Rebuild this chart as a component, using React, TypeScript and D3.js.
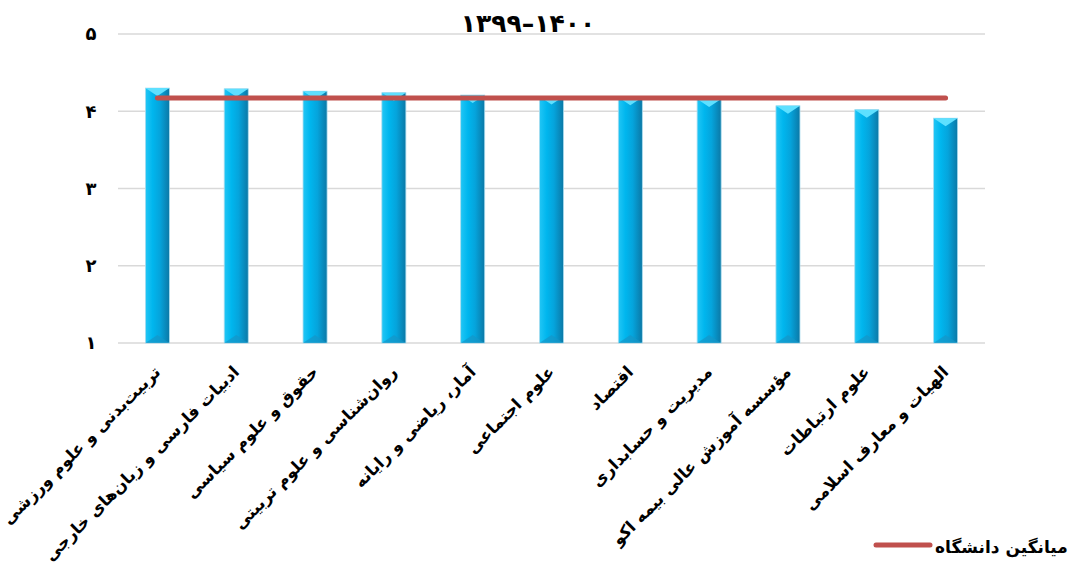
import { useEffect, useRef } from 'react'
import * as d3 from 'd3'

const CATEGORIES = [
  'تربیت‌بدنی و علوم ورزشی',
  'ادبیات فارسی و زبان‌های خارجی',
  'حقوق و علوم سیاسی',
  'روان‌شناسی و علوم تربیتی',
  'آمار، ریاضی و رایانه',
  'علوم اجتماعی',
  'اقتصاد',
  'مدیریت و حسابداری',
  'مؤسسه آموزش عالی بیمه اکو',
  'علوم ارتباطات',
  'الهیات و معارف اسلامی',
]
const FACULTY_SCORES = [4.3, 4.29, 4.26, 4.24, 4.21, 4.19, 4.18, 4.16, 4.07, 4.02, 3.91]
const UNIVERSITY_MEAN = [4.17, 4.17, 4.17, 4.17, 4.17, 4.17, 4.17, 4.17, 4.17, 4.17, 4.17]
const Y_TICKS = [1, 2, 3, 4, 5]
const Y_TICK_LABELS = ['۱', '۲', '۳', '۴', '۵']
const TITLE = '۱۳۹۹–۱۴۰۰'
const LEGEND_LABEL = 'میانگین دانشگاه'

const FONT = '"DejaVu Sans", sans-serif'

export default function App() {
  const ref = useRef<SVGSVGElement>(null)

  useEffect(() => {
    const svg = d3.select(ref.current)
    svg.selectAll('*').remove()

    const width = 1070
    const height = 562
    const left = 118
    const right = 985
    const top = 34
    const bottom = 343

    svg.attr('viewBox', `0 0 ${width} ${height}`)

    const defs = svg.append('defs')
    const grad = defs.append('linearGradient').attr('id', 'barGrad').attr('x1', 0).attr('x2', 1).attr('y1', 0).attr('y2', 0)
    grad.append('stop').attr('offset', '0%').attr('stop-color', '#22c6f5')
    grad.append('stop').attr('offset', '30%').attr('stop-color', '#00b6ee')
    grad.append('stop').attr('offset', '60%').attr('stop-color', '#05a4dc')
    grad.append('stop').attr('offset', '100%').attr('stop-color', '#0b78a6')

    const x = d3.scaleBand<string>().domain(CATEGORIES).range([left, right]).padding(0)
    const y = d3.scaleLinear().domain([1, 5]).range([bottom, top])
    const barW = x.bandwidth() * 0.305
    const cx = (c: string) => (x(c) ?? 0) + x.bandwidth() / 2

    // gridlines
    svg.append('g')
      .selectAll('line')
      .data(Y_TICKS)
      .join('line')
      .attr('x1', left)
      .attr('x2', right)
      .attr('y1', d => y(d))
      .attr('y2', d => y(d))
      .attr('stroke', '#d9d9d9')
      .attr('stroke-width', 1.5)

    // y tick labels
    svg.append('g')
      .selectAll('text')
      .data(Y_TICKS)
      .join('text')
      .attr('x', 91)
      .attr('y', d => y(d))
      .attr('dy', '0.35em')
      .attr('text-anchor', 'middle')
      .attr('font-family', FONT)
      .attr('font-weight', 'bold')
      .attr('font-size', 18)
      .text((_, i) => Y_TICK_LABELS[i])

    // bars
    const bars = svg.append('g')
      .selectAll('g')
      .data(CATEGORIES.map((c, i) => ({ c, v: FACULTY_SCORES[i] })))
      .join('g')

    bars.append('rect')
      .attr('x', d => cx(d.c) - barW / 2)
      .attr('width', barW)
      .attr('y', d => y(d.v))
      .attr('height', d => y(1) - y(d.v))
      .attr('fill', 'url(#barGrad)')
      .attr('stroke', '#a9dcef')
      .attr('stroke-width', 0.8)

    bars.append('path')
      .attr('d', d => {
        const x0 = cx(d.c) - barW / 2
        const t = y(d.v)
        return `M${x0},${t}L${x0 + barW},${t}L${x0 + barW / 2},${t + 8}Z`
      })
      .attr('fill', '#5ee0ff')

    bars.append('path')
      .attr('d', d => {
        const x0 = cx(d.c) - barW / 2
        const b = y(1)
        return `M${x0},${b}L${x0 + barW},${b}L${x0 + barW / 2},${b - 8}Z`
      })
      .attr('fill', '#1596c8')
      .attr('opacity', 0.7)

    // mean line
    const line = d3.line<number>()
      .x((_, i) => cx(CATEGORIES[i]))
      .y(d => y(d))
    svg.append('path')
      .datum(UNIVERSITY_MEAN)
      .attr('d', line)
      .attr('fill', 'none')
      .attr('stroke', '#c0504d')
      .attr('stroke-width', 5)
      .attr('stroke-linecap', 'round')

    // x labels
    svg.append('g')
      .selectAll('text')
      .data(CATEGORIES)
      .join('text')
      .attr('transform', d => `translate(${cx(d) + 4},${bottom + 30}) rotate(-45)`)
      .attr('text-anchor', 'end')
      .attr('font-family', FONT)
      .attr('font-weight', 'bold')
      .attr('font-size', 16.5)
      .text(d => d)

    // title
    svg.append('text')
      .attr('x', 528)
      .attr('y', 32)
      .attr('text-anchor', 'middle')
      .attr('font-family', FONT)
      .attr('font-weight', 'bold')
      .attr('font-size', 25)
      .text(TITLE)

    // legend
    const lg = svg.append('g')
    lg.append('line')
      .attr('x1', 876)
      .attr('x2', 930)
      .attr('y1', 545)
      .attr('y2', 545)
      .attr('stroke', '#c0504d')
      .attr('stroke-width', 5)
      .attr('stroke-linecap', 'round')
    lg.append('text')
      .attr('x', 935)
      .attr('y', 547)
      .attr('dy', '0.35em')
      .attr('text-anchor', 'start')
      .attr('font-family', FONT)
      .attr('font-weight', 'bold')
      .attr('font-size', 17)
      .text(LEGEND_LABEL)
  }, [])

  return (
    <svg
      ref={ref}
      width={1070}
      height={562}
      style={{ position: 'absolute', left: 0, top: 0, display: 'block', background: '#fff' }}
    />
  )
}
